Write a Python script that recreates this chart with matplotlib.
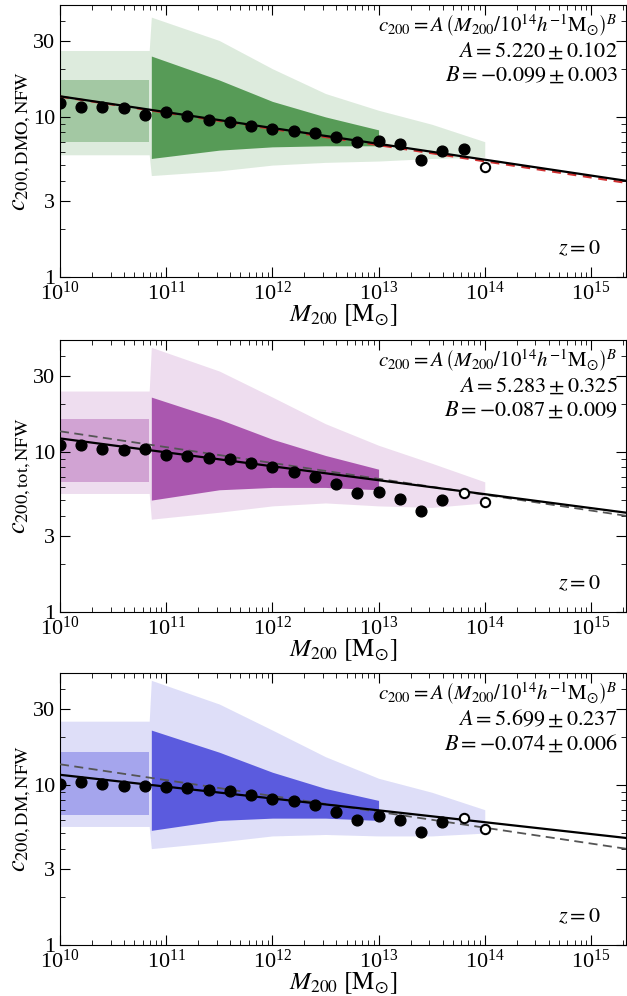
import numpy as np
import matplotlib
matplotlib.use("Agg")
import matplotlib.pyplot as plt
from matplotlib.ticker import FixedLocator, NullFormatter

plt.rcParams["font.family"] = "Liberation Serif"
plt.rcParams["mathtext.fontset"] = "stix"

h = 0.704

# binned medians, log10 M200 from 10.0 in steps of 0.2
logm_bins = [10.0, 10.2, 10.4, 10.6, 10.8, 11.0, 11.2, 11.4, 11.6, 11.8, 12.0,
             12.2, 12.4, 12.6, 12.8, 13.0, 13.2, 13.4, 13.6, 13.8, 14.0]
c_dmo = [12.3, 11.6, 11.6, 11.4, 10.3, 10.8, 10.1, 9.6, 9.3, 8.8, 8.4,
         8.2, 7.9, 7.5, 7.0, 7.1, 6.8, 5.35, 6.15, 6.3, 4.9]
open_dmo = [False] * 20 + [True]
c_tot = [11.0, 11.0, 10.5, 10.3, 10.4, 9.6, 9.4, 9.2, 9.0, 8.5, 8.1,
         7.5, 7.0, 6.3, 5.5, 5.6, 5.1, 4.3, 5.0, 5.5, 4.85]
open_tot = [False] * 19 + [True, True]
c_dm = [10.2, 10.5, 10.2, 9.8, 9.8, 9.7, 9.5, 9.3, 9.1, 8.6, 8.2,
        7.9, 7.5, 6.75, 6.05, 6.4, 6.05, 5.05, 5.85, 6.25, 5.3]
open_dm = [False] * 19 + [True, True]

# fits (A, B)
fit_dmo = (5.220, -0.099)
fit_tot = (5.283, -0.087)
fit_dm = (5.699, -0.074)
fit_dmo_alt = (5.10, -0.101)   # red dashed in top panel

# halo cloud envelopes
cloud_logm = [10.0, 10.84, 10.86, 11.5, 12.0, 12.5, 13.0, 13.5, 14.0]
faint_lo = {"dmo": [5.8, 5.8, 4.3, 4.6, 5.0, 5.2, 5.3, 5.5, 5.6],
            "tot": [5.5, 5.5, 3.8, 4.2, 4.6, 4.8, 4.6, 4.5, 4.8],
            "dm": [5.5, 5.5, 4.0, 4.4, 4.8, 4.9, 4.8, 4.8, 5.0]}
faint_hi = {"dmo": [26, 26, 42, 30, 20, 14, 11, 9, 7],
            "tot": [24, 24, 45, 32, 22, 15, 11, 8.5, 6.5],
            "dm": [25, 25, 45, 32, 22, 15, 11, 9, 7]}
mid_logm = [10.0, 10.84]
mid_lo = {"dmo": [7.0, 7.0], "tot": [6.5, 6.5], "dm": [6.5, 6.5]}
mid_hi = {"dmo": [17, 17], "tot": [16, 16], "dm": [16, 16]}
dense_logm = [10.86, 11.5, 12.0, 12.5, 13.0]
dense_lo = {"dmo": [5.5, 6.2, 6.5, 6.6, 6.6],
            "tot": [5.0, 5.8, 6.0, 6.0, 5.8],
            "dm": [5.2, 6.0, 6.2, 6.2, 6.0]}
dense_hi = {"dmo": [24, 17, 12.5, 10, 8.3],
            "tot": [22, 16, 12, 9.5, 7.8],
            "dm": [22, 16, 12, 9.5, 8.0]}

panels = [
    ("dmo", c_dmo, open_dmo, fit_dmo, "#1f7a1f", r"$c_{200,\mathrm{DMO,NFW}}$"),
    ("tot", c_tot, open_tot, fit_tot, "#8e1f94", r"$c_{200,\mathrm{tot,NFW}}$"),
    ("dm", c_dm, open_dm, fit_dm, "#2424d4", r"$c_{200,\mathrm{DM,NFW}}$"),
]

fig = plt.figure(figsize=(6.27, 9.96), dpi=100)
tops = [5, 340, 673]
m_line = np.logspace(10, 15.35, 50)

for (key, cvals, opens, fit, col, ylab), top in zip(panels, tops):
    ax = fig.add_axes([60 / 627, 1 - (top + 272) / 996, 566 / 627, 272 / 996])
    cm = 10 ** np.array(cloud_logm)
    ax.fill_between(cm, faint_lo[key], faint_hi[key], color=col, alpha=0.15, lw=0)
    mm = 10 ** np.array(mid_logm)
    ax.fill_between(mm, mid_lo[key], mid_hi[key], color=col, alpha=0.3, lw=0)
    dm_ = 10 ** np.array(dense_logm)
    ax.fill_between(dm_, dense_lo[key], dense_hi[key], color=col, alpha=0.7, lw=0)

    A, B = fit
    ax.plot(m_line, A * (m_line * h / 1e14) ** B, color="black", lw=1.6, zorder=4)
    if key == "dmo":
        A2, B2 = fit_dmo_alt
        ax.plot(m_line, A2 * (m_line * h / 1e14) ** B2, color="#d03030", lw=1.6,
                ls=(0, (4, 3)), zorder=3)
    else:
        A2, B2 = fit_dmo
        ax.plot(m_line, A2 * (m_line * h / 1e14) ** B2, color="#555555", lw=1.3,
                ls=(0, (5, 3)), zorder=3)

    mb = 10 ** np.array(logm_bins)
    cv = np.array(cvals)
    op = np.array(opens)
    ax.scatter(mb[~op], cv[~op], s=60, color="black", zorder=5)
    ax.scatter(mb[op], cv[op], s=45, facecolor="white", edgecolor="black", lw=1.5, zorder=5)

    ax.set_xscale("log")
    ax.set_yscale("log")
    ax.set_xlim(1e10, 10 ** 15.33)
    ax.set_ylim(1, 50)
    ax.yaxis.set_major_locator(FixedLocator([1, 3, 10, 30]))
    ax.yaxis.set_major_formatter(plt.FixedFormatter(["1", "3", "10", "30"]))
    ax.yaxis.set_minor_formatter(NullFormatter())
    ax.xaxis.set_major_locator(FixedLocator([1e10, 1e11, 1e12, 1e13, 1e14, 1e15]))
    ax.tick_params(which="both", direction="in", top=True, right=True, labelsize=16)
    ax.tick_params(which="major", length=7)
    ax.tick_params(which="minor", length=3.5)
    ax.set_xlabel(r"$M_{200}\ [\mathrm{M_{\odot}}]$", fontsize=18, labelpad=-2)
    ax.set_ylabel(ylab, fontsize=19, labelpad=0)

    ax.text(0.985, 0.925, r"$c_{200} = A\,\left(M_{200}/10^{14}h^{-1}\mathrm{M_{\odot}}\right)^B$",
            transform=ax.transAxes, ha="right", va="center", fontsize=15)
    Aerr = {"dmo": "5.220 \\pm 0.102", "tot": "5.283 \\pm 0.325", "dm": "5.699 \\pm 0.237"}[key]
    Berr = {"dmo": "-0.099 \\pm 0.003", "tot": "-0.087 \\pm 0.009", "dm": "-0.074 \\pm 0.006"}[key]
    ax.text(0.985, 0.83, r"$A = %s$" % Aerr, transform=ax.transAxes, ha="right",
            va="center", fontsize=16)
    ax.text(0.985, 0.74, r"$B = %s$" % Berr, transform=ax.transAxes, ha="right",
            va="center", fontsize=16)
    ax.text(0.955, 0.1, r"$z = 0$", transform=ax.transAxes, ha="right",
            va="center", fontsize=16)

fig.savefig("out.png", dpi=100)
